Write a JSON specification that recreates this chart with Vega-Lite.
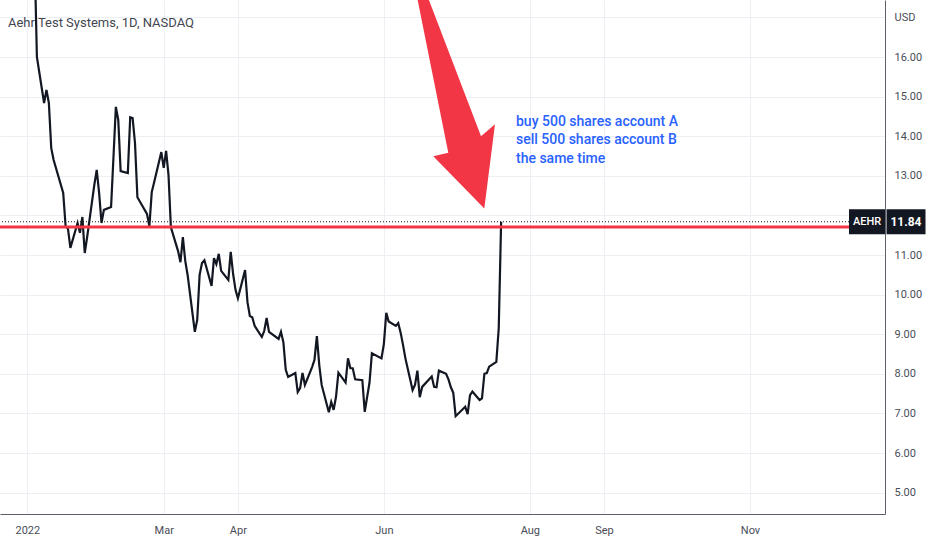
{
  "$schema": "https://vega.github.io/schema/vega-lite/v6.json",
  "description": "Aehr Test Systems daily close, 2022, with a horizontal level, a last-price label and an arrow note.",
  "width": 885,
  "height": 514,
  "autosize": "none",
  "padding": {"left": 0, "top": 0, "right": 47, "bottom": 36},
  "background": "white",
  "config": {"view": {"stroke": null}, "font": "Roboto"},
  "title": {
    "text": "Aehr Test Systems, 1D, NASDAQ",
    "anchor": "start",
    "frame": "group",
    "orient": "top",
    "offset": 0,
    "dx": 8,
    "dy": 36,
    "baseline": "middle",
    "font": "Roboto",
    "fontSize": 13,
    "fontWeight": "normal",
    "color": "#434651"
  },
  "datasets": {
    "prices": [
      {"date": "2022-01-03", "price": 20.8},
      {"date": "2022-01-04", "price": 20.2},
      {"date": "2022-01-05", "price": 19.5},
      {"date": "2022-01-06", "price": 18.7},
      {"date": "2022-01-07", "price": 16.0},
      {"date": "2022-01-10", "price": 14.84},
      {"date": "2022-01-11", "price": 15.17},
      {"date": "2022-01-12", "price": 14.84},
      {"date": "2022-01-13", "price": 13.7},
      {"date": "2022-01-14", "price": 13.4},
      {"date": "2022-01-18", "price": 12.57},
      {"date": "2022-01-19", "price": 11.73},
      {"date": "2022-01-20", "price": 11.66},
      {"date": "2022-01-21", "price": 11.18},
      {"date": "2022-01-24", "price": 11.81},
      {"date": "2022-01-25", "price": 11.56},
      {"date": "2022-01-26", "price": 11.96},
      {"date": "2022-01-27", "price": 11.05},
      {"date": "2022-01-28", "price": 11.45},
      {"date": "2022-01-31", "price": 12.77},
      {"date": "2022-02-01", "price": 13.15},
      {"date": "2022-02-02", "price": 12.57},
      {"date": "2022-02-03", "price": 11.81},
      {"date": "2022-02-04", "price": 12.14},
      {"date": "2022-02-07", "price": 12.21},
      {"date": "2022-02-08", "price": 13.47},
      {"date": "2022-02-09", "price": 14.74},
      {"date": "2022-02-10", "price": 14.41},
      {"date": "2022-02-11", "price": 13.12},
      {"date": "2022-02-14", "price": 13.07},
      {"date": "2022-02-15", "price": 14.48},
      {"date": "2022-02-16", "price": 14.46},
      {"date": "2022-02-17", "price": 13.83},
      {"date": "2022-02-18", "price": 12.46},
      {"date": "2022-02-22", "price": 12.04},
      {"date": "2022-02-23", "price": 11.73},
      {"date": "2022-02-24", "price": 12.59},
      {"date": "2022-02-25", "price": 12.84},
      {"date": "2022-02-28", "price": 13.6},
      {"date": "2022-03-01", "price": 13.2},
      {"date": "2022-03-02", "price": 13.63},
      {"date": "2022-03-03", "price": 13.02},
      {"date": "2022-03-04", "price": 11.7},
      {"date": "2022-03-07", "price": 11.1},
      {"date": "2022-03-08", "price": 10.82},
      {"date": "2022-03-09", "price": 11.45},
      {"date": "2022-03-10", "price": 10.85},
      {"date": "2022-03-11", "price": 10.49},
      {"date": "2022-03-14", "price": 9.06},
      {"date": "2022-03-15", "price": 9.36},
      {"date": "2022-03-16", "price": 10.5},
      {"date": "2022-03-17", "price": 10.8},
      {"date": "2022-03-18", "price": 10.87},
      {"date": "2022-03-21", "price": 10.22},
      {"date": "2022-03-22", "price": 10.92},
      {"date": "2022-03-23", "price": 10.77},
      {"date": "2022-03-24", "price": 11.03},
      {"date": "2022-03-25", "price": 10.6},
      {"date": "2022-03-28", "price": 10.37},
      {"date": "2022-03-29", "price": 11.08},
      {"date": "2022-03-30", "price": 10.52},
      {"date": "2022-03-31", "price": 10.12},
      {"date": "2022-04-01", "price": 9.91},
      {"date": "2022-04-04", "price": 10.62},
      {"date": "2022-04-05", "price": 9.81},
      {"date": "2022-04-06", "price": 9.46},
      {"date": "2022-04-07", "price": 9.43},
      {"date": "2022-04-08", "price": 9.21},
      {"date": "2022-04-11", "price": 8.93},
      {"date": "2022-04-12", "price": 9.08},
      {"date": "2022-04-13", "price": 9.41},
      {"date": "2022-04-14", "price": 9.06},
      {"date": "2022-04-18", "price": 8.88},
      {"date": "2022-04-19", "price": 9.06},
      {"date": "2022-04-20", "price": 8.8},
      {"date": "2022-04-21", "price": 8.1},
      {"date": "2022-04-22", "price": 7.92},
      {"date": "2022-04-25", "price": 8.02},
      {"date": "2022-04-26", "price": 7.54},
      {"date": "2022-04-27", "price": 7.64},
      {"date": "2022-04-28", "price": 8.02},
      {"date": "2022-04-29", "price": 7.72},
      {"date": "2022-05-02", "price": 8.17},
      {"date": "2022-05-03", "price": 8.35},
      {"date": "2022-05-04", "price": 8.95},
      {"date": "2022-05-05", "price": 8.22},
      {"date": "2022-05-06", "price": 7.72},
      {"date": "2022-05-09", "price": 7.03},
      {"date": "2022-05-10", "price": 7.29},
      {"date": "2022-05-11", "price": 7.09},
      {"date": "2022-05-12", "price": 7.42},
      {"date": "2022-05-13", "price": 8.03},
      {"date": "2022-05-16", "price": 7.78},
      {"date": "2022-05-17", "price": 8.39},
      {"date": "2022-05-18", "price": 8.14},
      {"date": "2022-05-19", "price": 8.14},
      {"date": "2022-05-20", "price": 7.86},
      {"date": "2022-05-23", "price": 7.84},
      {"date": "2022-05-24", "price": 7.04},
      {"date": "2022-05-25", "price": 7.41},
      {"date": "2022-05-26", "price": 7.78},
      {"date": "2022-05-27", "price": 8.52},
      {"date": "2022-05-31", "price": 8.39},
      {"date": "2022-06-01", "price": 8.75},
      {"date": "2022-06-02", "price": 9.54},
      {"date": "2022-06-03", "price": 9.32},
      {"date": "2022-06-06", "price": 9.21},
      {"date": "2022-06-07", "price": 9.28},
      {"date": "2022-06-08", "price": 9.04},
      {"date": "2022-06-09", "price": 8.73},
      {"date": "2022-06-10", "price": 8.39},
      {"date": "2022-06-13", "price": 7.59},
      {"date": "2022-06-14", "price": 7.72},
      {"date": "2022-06-15", "price": 8.08},
      {"date": "2022-06-16", "price": 7.41},
      {"date": "2022-06-17", "price": 7.67},
      {"date": "2022-06-21", "price": 7.93},
      {"date": "2022-06-22", "price": 7.67},
      {"date": "2022-06-23", "price": 7.66},
      {"date": "2022-06-24", "price": 8.08},
      {"date": "2022-06-27", "price": 8.0},
      {"date": "2022-06-28", "price": 7.86},
      {"date": "2022-06-29", "price": 7.66},
      {"date": "2022-06-30", "price": 7.52},
      {"date": "2022-07-01", "price": 6.93},
      {"date": "2022-07-05", "price": 7.17},
      {"date": "2022-07-06", "price": 6.98},
      {"date": "2022-07-07", "price": 7.46},
      {"date": "2022-07-08", "price": 7.55},
      {"date": "2022-07-11", "price": 7.34},
      {"date": "2022-07-12", "price": 7.38},
      {"date": "2022-07-13", "price": 8.0},
      {"date": "2022-07-14", "price": 8.02},
      {"date": "2022-07-15", "price": 8.18},
      {"date": "2022-07-18", "price": 8.3},
      {"date": "2022-07-19", "price": 9.15},
      {"date": "2022-07-20", "price": 11.84}
    ],
    "last": [{"ticker": "AEHR", "price": 11.84, "label": "11.84"}],
    "level": [{"price": 11.71}],
    "arrow": [{"date": "2022-06-30T17:30:00Z", "price": 14.91}],
    "note": [
      {"date": "2022-07-26T05:00:00Z", "price": 14.36, "text": ["buy 500 shares account A", "sell 500 shares account B", "the same time"]}
    ]
  },
  "encoding": {
    "y": {
      "field": "price",
      "type": "quantitative",
      "scale": {"domain": [4.46, 17.44], "nice": false, "zero": false},
      "axis": {
        "orient": "right",
        "values": [5, 6, 7, 8, 9, 10, 11, 12, 13, 14, 15, 16, 17],
        "format": ".2f",
        "labelExpr": "datum.value > 16.5 ? '' : datum.label",
        "title": "USD",
        "titleAngle": 0,
        "titleAlign": "left",
        "titleBaseline": "middle",
        "titleX": 9,
        "titleY": 17,
        "titleFont": "Roboto",
        "titleFontSize": 11,
        "titleFontWeight": "normal",
        "titleColor": "#4a4d57",
        "labelFont": "Roboto",
        "labelFontSize": 11,
        "labelColor": "#4a4d57",
        "labelAlign": "left",
        "labelBaseline": "middle",
        "labelPadding": 9,
        "ticks": false,
        "domainColor": "#5d606b",
        "grid": true,
        "gridColor": "#eceff4"
      }
    }
  },
  "layer": [
    {
      "data": {"name": "prices"},
      "mark": {"type": "line", "color": "#131722", "strokeWidth": 2.2, "clip": true},
      "encoding": {
        "x": {
          "field": "date",
          "type": "temporal",
          "scale": {
            "type": "utc",
            "domain": [
              {"year": 2021, "month": 12, "date": 22, "hours": 14, "utc": true},
              {"year": 2022, "month": 12, "date": 27, "hours": 10, "utc": true}
            ]
          },
          "axis": {
            "orient": "bottom",
            "title": null,
            "values": [
              {"year": 2022, "month": 1, "date": 3, "utc": true},
              {"year": 2022, "month": 3, "date": 1, "utc": true},
              {"year": 2022, "month": 4, "date": 1, "utc": true},
              {"year": 2022, "month": 6, "date": 1, "utc": true},
              {"year": 2022, "month": 8, "date": 1, "utc": true},
              {"year": 2022, "month": 9, "date": 1, "utc": true},
              {"year": 2022, "month": 11, "date": 1, "utc": true}
            ],
            "labelExpr": "utcFormat(datum.value, '%m') == '01' ? utcFormat(datum.value, '%Y') : utcFormat(datum.value, '%b')",
            "labelFont": "Roboto",
            "labelFontSize": 11,
            "labelColor": "#4a4d57",
            "labelPadding": 10,
            "labelFlush": false,
            "ticks": false,
            "domainColor": "#5d606b",
            "grid": true,
            "gridColor": "#eceff4"
          }
        }
      }
    },
    {
      "data": {"name": "last"},
      "mark": {"type": "rule", "color": "#131722", "strokeWidth": 1, "strokeDash": [1, 2]},
      "encoding": {}
    },
    {
      "data": {"name": "level"},
      "mark": {"type": "rule", "color": "#F23645", "strokeWidth": 3},
      "encoding": {}
    },
    {
      "data": {"name": "arrow"},
      "mark": {
        "type": "point",
        "shape": "M-0.331,-0.933L-0.056,0.439L-0.181,0.467L0.244,0.903L0.333,0.2L0.217,0.3L-0.255,-0.933Z",
        "size": 57600,
        "filled": true,
        "color": "#F23645",
        "opacity": 1,
        "strokeWidth": 0,
        "clip": true
      },
      "encoding": {"x": {"field": "date", "type": "temporal"}}
    },
    {
      "data": {"name": "note"},
      "mark": {
        "type": "text",
        "align": "left",
        "baseline": "middle",
        "lineHeight": 18.5,
        "font": "Roboto",
        "fontSize": 14,
        "fontWeight": 500,
        "color": "#2962FF"
      },
      "encoding": {
        "x": {"field": "date", "type": "temporal"},
        "text": {"field": "text"}
      }
    },
    {
      "data": {"name": "last"},
      "mark": {
        "type": "point",
        "shape": "M-1,-0.694H1V0.694H-1Z",
        "size": 1296,
        "filled": true,
        "color": "#131722",
        "opacity": 1,
        "strokeWidth": 0,
        "xOffset": -18
      },
      "encoding": {"x": {"datum": {"year": 2022, "month": 12, "date": 27, "hours": 10, "utc": true}, "type": "temporal"}}
    },
    {
      "data": {"name": "last"},
      "mark": {
        "type": "text",
        "align": "center",
        "baseline": "middle",
        "font": "Roboto",
        "fontSize": 11,
        "fontWeight": 500,
        "color": "white",
        "xOffset": -18
      },
      "encoding": {
        "x": {"datum": {"year": 2022, "month": 12, "date": 27, "hours": 10, "utc": true}, "type": "temporal"},
        "text": {"field": "ticker"}
      }
    },
    {
      "data": {"name": "last"},
      "mark": {
        "type": "point",
        "shape": "M-1,-0.641H1V0.641H-1Z",
        "size": 1521,
        "filled": true,
        "color": "#131722",
        "opacity": 1,
        "strokeWidth": 0,
        "xOffset": 21
      },
      "encoding": {"x": {"datum": {"year": 2022, "month": 12, "date": 27, "hours": 10, "utc": true}, "type": "temporal"}}
    },
    {
      "data": {"name": "last"},
      "mark": {
        "type": "text",
        "align": "center",
        "baseline": "middle",
        "font": "Roboto",
        "fontSize": 12,
        "fontWeight": "bold",
        "color": "white",
        "xOffset": 21
      },
      "encoding": {
        "x": {"datum": {"year": 2022, "month": 12, "date": 27, "hours": 10, "utc": true}, "type": "temporal"},
        "text": {"field": "label"}
      }
    }
  ]
}
